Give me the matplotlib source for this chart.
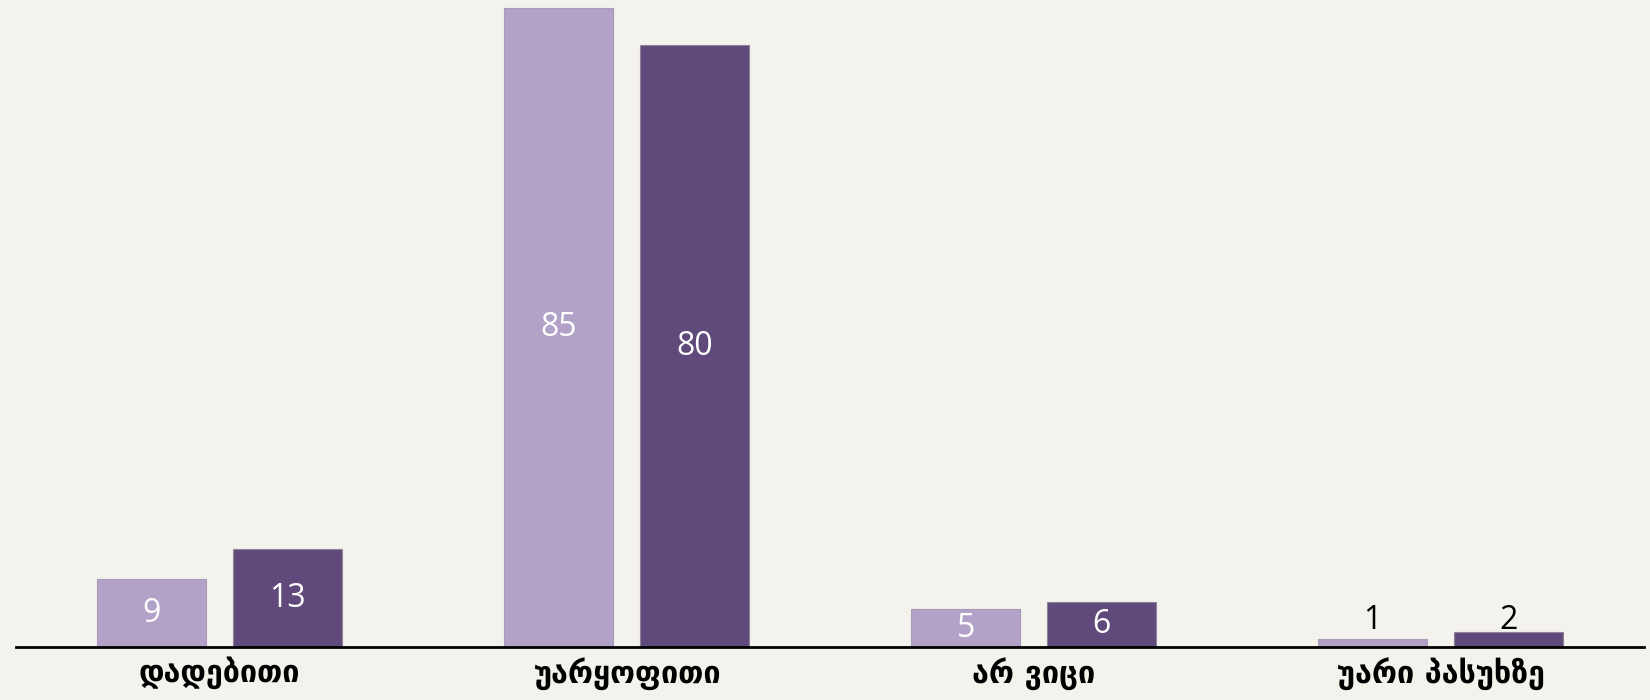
import numpy as np
import matplotlib
matplotlib.use("Agg")
import matplotlib.pyplot as plt

# categories and the two series (percent)
categories = ["დადებითი", "უარყოფითი", "არ ვიცი", "უარი პასუხზე"]
series_light = [9, 85, 5, 1]
series_dark = [13, 80, 6, 2]

bg = "#F4F2ED"
light = "#B3A2C7"
dark = "#604A7B"

fig = plt.figure(figsize=(16.5, 7), dpi=100, facecolor=bg)
ax = fig.add_axes([0.0097, 0.0757, 0.9867, 0.9243], facecolor=bg)

x = np.arange(len(categories))
w = 0.269
off = 0.167
b1 = ax.bar(x - off, series_light, w, color=light, edgecolor="#A89BB8", linewidth=0.8)
b2 = ax.bar(x + off, series_dark, w, color=dark, edgecolor="#8E8498", linewidth=0.8)

ax.set_xlim(-0.5, len(categories) - 0.5)
ax.set_ylim(0, 86.0)

# value labels: centred inside the bar, small ones above in black
for bars, vals in ((b1, series_light), (b2, series_dark)):
    for rect, v in zip(bars, vals):
        cx = rect.get_x() + rect.get_width() / 2
        if v >= 4:
            ax.text(cx, v / 2, str(v), ha="center", va="center", color="white",
                    fontsize=23, family="Open Sans")
        else:
            ax.text(cx, 3.5, str(v), ha="center", va="center", color="black",
                    fontsize=23, family="Open Sans")

for s in ("top", "right", "left"):
    ax.spines[s].set_visible(False)
ax.spines["bottom"].set_linewidth(2)
ax.spines["bottom"].set_color("black")
ax.set_yticks([])
ax.set_xticks(x)
ax.set_xticklabels(categories, fontsize=22, fontweight="bold", family="DejaVu Sans")
ax.tick_params(axis="x", length=0, pad=7)

fig.savefig("out.png", dpi=100, facecolor=bg)
